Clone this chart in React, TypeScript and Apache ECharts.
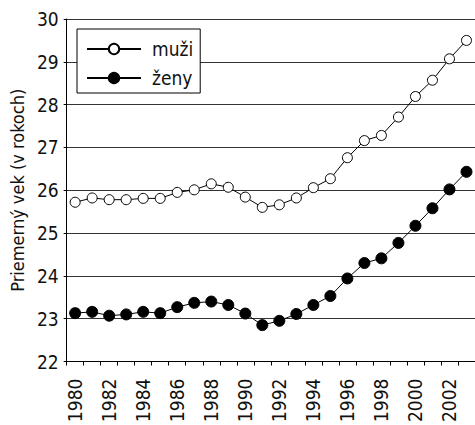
import React, { useEffect, useRef } from "react";
import * as echarts from "echarts";

const years = [
  "1980", "1981", "1982", "1983", "1984", "1985", "1986", "1987", "1988", "1989", "1990", "1991",
  "1992", "1993", "1994", "1995", "1996", "1997", "1998", "1999", "2000", "2001", "2002", "2003",
];
const muzi = [
  25.72, 25.82, 25.78, 25.78, 25.81, 25.81, 25.95, 26.01, 26.15, 26.07, 25.84, 25.6,
  25.66, 25.82, 26.06, 26.27, 26.76, 27.16, 27.28, 27.71, 28.19, 28.57, 29.07, 29.5,
];
const zeny = [
  23.13, 23.16, 23.07, 23.1, 23.16, 23.13, 23.27, 23.37, 23.4, 23.32, 23.12, 22.85,
  22.95, 23.11, 23.32, 23.53, 23.94, 24.3, 24.41, 24.77, 25.17, 25.58, 26.02, 26.43,
];
const seriesNames = ["muži", "ženy"];
const yAxisName = "Priemerný vek (v rokoch)";

const FONT = "'Liberation Sans Narrow', 'DejaVu Sans Condensed', 'Arial Narrow', Arial, sans-serif";

export default function App() {
  const ref = useRef<HTMLDivElement>(null);
  useEffect(() => {
    if (!ref.current) return;
    const chart = echarts.init(ref.current, null, { renderer: "svg" });
    chart.setOption({
      animation: false,
      backgroundColor: "#fff",
      textStyle: { fontFamily: FONT },
      grid: { left: 62, top: 19, bottom: 60, right: -7, containLabel: false },
      legend: {
        left: 77,
        top: 29,
        orient: "vertical",
        backgroundColor: "#fff",
        borderColor: "#000",
        borderWidth: 1,
        borderRadius: 0,
        padding: [10, 7, 5, 9],
        itemWidth: 54,
        itemHeight: 13,
        itemGap: 9,
        textStyle: { fontFamily: FONT, fontSize: 19, color: "#111", padding: [0, 0, 0, 6], lineHeight: 20 },
        data: seriesNames,
      },
      xAxis: {
        type: "category",
        data: years,
        boundaryGap: true,
        axisLine: { lineStyle: { color: "#000", width: 1 } },
        axisTick: { show: true, length: 4, interval: 0, lineStyle: { color: "#000" } },
        axisLabel: { interval: 1, rotate: 90, margin: 17, fontSize: 19, color: "#111", fontFamily: FONT },
        splitLine: { show: false },
      },
      yAxis: {
        type: "value",
        min: 22,
        max: 30,
        interval: 1,
        name: yAxisName,
        nameLocation: "middle",
        nameGap: 35,
        nameTextStyle: { fontSize: 18, color: "#111", fontFamily: FONT },
        axisLine: { show: true, lineStyle: { color: "#000", width: 1 } },
        axisTick: { show: true, length: 3, lineStyle: { color: "#000" } },
        axisLabel: { margin: 8, fontSize: 19, color: "#111", fontFamily: FONT },
        splitLine: { show: true, lineStyle: { color: "#333", width: 1 } },
      },
      series: [
        {
          name: seriesNames[0],
          type: "line",
          data: muzi,
          symbol: "circle",
          symbolSize: 10,
          color: "#000",
          lineStyle: { color: "#000", width: 1 },
          itemStyle: { color: "#fff", borderColor: "#000", borderWidth: 1 },
          z: 3,
        },
        {
          name: seriesNames[1],
          type: "line",
          data: zeny,
          symbol: "circle",
          symbolSize: 11,
          color: "#000",
          lineStyle: { color: "#000", width: 1 },
          itemStyle: { color: "#000", borderColor: "#000", borderWidth: 1 },
          z: 3,
        },
      ],
    });
    return () => chart.dispose();
  }, []);
  return (
    <div
      ref={ref}
      style={{ position: "fixed", left: 0, top: 0, width: 475, height: 425 }}
    />
  );
}
